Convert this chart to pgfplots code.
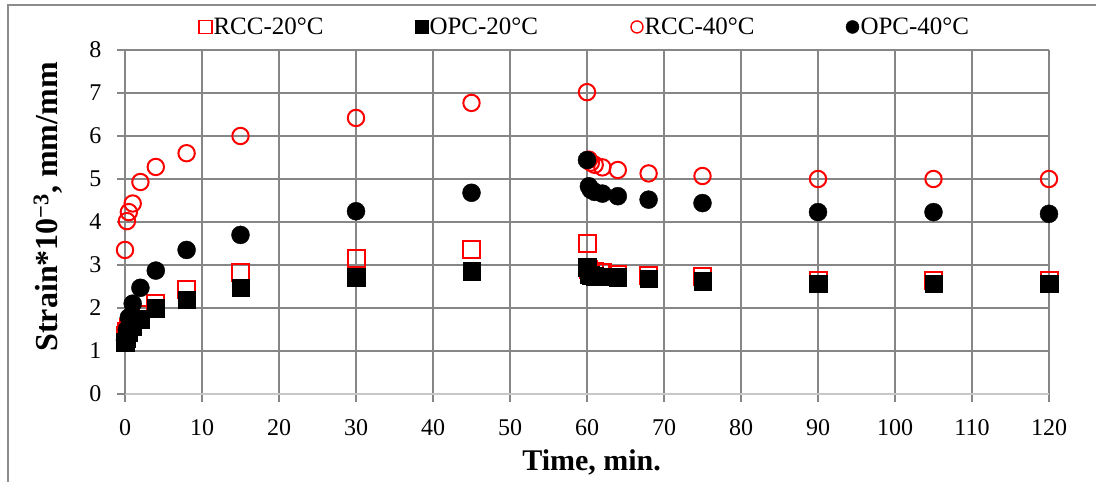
\documentclass[border=0pt]{standalone}
\usepackage{fontspec}
\setmainfont{Liberation Serif}
\usepackage{pgfplots}
\pgfplotsset{compat=1.18}

\definecolor{gridgray}{RGB}{134,134,134}
\definecolor{basegray}{RGB}{200,200,200}
\definecolor{framegray}{RGB}{140,140,140}
\definecolor{rccred}{RGB}{255,0,0}

\begin{document}
\begin{tikzpicture}
% outer frame of the figure
\draw[framegray, line width=2pt] (8pt,0pt) -- (8pt,477pt) -- (1100pt,477pt);
\begin{axis}[
  at={(125pt,88pt)}, anchor=south west,
  scale only axis, width=924pt, height=344pt,
  xmin=0, xmax=120, ymin=0, ymax=8,
  xtick={0,10,...,120}, ytick={0,1,...,8},
  axis x line*=bottom, axis y line*=left,
  x axis line style={basegray, line width=1.2pt},
  y axis line style={gridgray, line width=1.2pt},
  grid=major,
  major grid style={gridgray, line width=1.2pt},
  tick align=outside, major tick length=8pt,
  tick style={gridgray, line width=1.2pt},
  clip=false,
  /pgf/number format/assume math mode=true,
  ticklabel style={font=\fontsize{24}{24}\selectfont},
  xticklabel style={yshift=-14pt},
  yticklabel style={xshift=-12pt},
  xlabel={Time, min.},
  xlabel style={at={(axis description cs:0.505,-0.2)}, anchor=center,
                font=\bfseries\fontsize{30}{30}\selectfont},
  ylabel={Strain*10\textsuperscript{−3}, mm/mm},
  ylabel style={at={(axis description cs:-0.0833,0.544)}, anchor=center,
                font=\bfseries\fontsize{32}{32}\selectfont},
  legend columns=4,
  legend image code/.code={\draw[#1] plot coordinates {(0pt,0pt)};},
  legend style={at={(axis description cs:0.0801,1.067)}, anchor=west,
                draw=none, fill=none, inner sep=0pt, outer sep=0pt,
                font=\fontsize{25}{25}\selectfont,
                nodes={inner sep=1.5pt},
                /tikz/every even column/.append style={column sep=30pt}},
]

% RCC-20 C
\addplot[only marks, forget plot, mark=square, mark size=8.5pt,
         mark options={draw=rccred, line width=2pt, fill=none}]
  coordinates {
  (0,1.35) (0.25,1.45) (0.5,1.55) (1,1.7) (2,1.85) (4,2.1) (8,2.44)
  (15,2.82) (30,3.16) (45,3.37) (60,3.49)
  (60.25,2.9) (60.5,2.86) (61,2.84) (62,2.82) (64,2.78) (68,2.76)
  (75,2.73) (90,2.64) (105,2.64) (120,2.64)};

% OPC-20 C
\addplot[only marks, forget plot, mark=square*, mark size=8.7pt,
         mark options={draw=black, fill=black, line width=0.4pt}]
  coordinates {
  (0,1.2) (0.25,1.3) (0.5,1.42) (1,1.57) (2,1.74) (4,2.0) (8,2.2)
  (15,2.47) (30,2.72) (45,2.86) (60,2.95)
  (60.25,2.78) (60.5,2.76) (61,2.74) (62,2.73) (64,2.72) (68,2.68)
  (75,2.62) (90,2.57) (105,2.57) (120,2.57)};

% RCC-40 C
\addplot[only marks, forget plot, mark=o, mark size=8.2pt,
         mark options={draw=rccred, line width=2pt, fill=none}]
  coordinates {
  (0,3.35) (0.25,4.02) (0.5,4.23) (1,4.43) (2,4.93) (4,5.28) (8,5.6)
  (15,6.0) (30,6.42) (45,6.77) (60,7.02)
  (60.25,5.45) (60.5,5.38) (61,5.33) (62,5.27) (64,5.21) (68,5.13)
  (75,5.07) (90,5.0) (105,5.0) (120,5.0)};

% OPC-40 C
\addplot[only marks, forget plot, mark=*, mark size=9pt,
         mark options={draw=black, fill=black, line width=0.4pt}]
  coordinates {
  (0,1.25) (0.25,1.5) (0.5,1.78) (1,2.1) (2,2.47) (4,2.87) (8,3.35)
  (15,3.7) (30,4.25) (45,4.68) (60,5.44)
  (60.25,4.83) (60.5,4.75) (61,4.7) (62,4.66) (64,4.6) (68,4.52)
  (75,4.44) (90,4.23) (105,4.23) (120,4.19)};

\addlegendimage{mark=square, mark size=6.5pt, mark options={draw=rccred, line width=1.4pt, fill=none}}
\addlegendentry{\makebox[170pt][l]{RCC-20\textdegree C}}
\addlegendimage{mark=square*, mark size=6.5pt, mark options={draw=black, fill=black}}
\addlegendentry{\makebox[170pt][l]{OPC-20\textdegree C}}
\addlegendimage{mark=o, mark size=6pt, mark options={draw=rccred, line width=1.4pt, fill=none}}
\addlegendentry{\makebox[170pt][l]{RCC-40\textdegree C}}
\addlegendimage{mark=*, mark size=6.5pt, mark options={draw=black, fill=black}}
\addlegendentry{\makebox[170pt][l]{OPC-40\textdegree C}}
\end{axis}
\pgfresetboundingbox
\useasboundingbox (0pt,0pt) rectangle (1096pt,482pt);
\end{tikzpicture}
\end{document}
